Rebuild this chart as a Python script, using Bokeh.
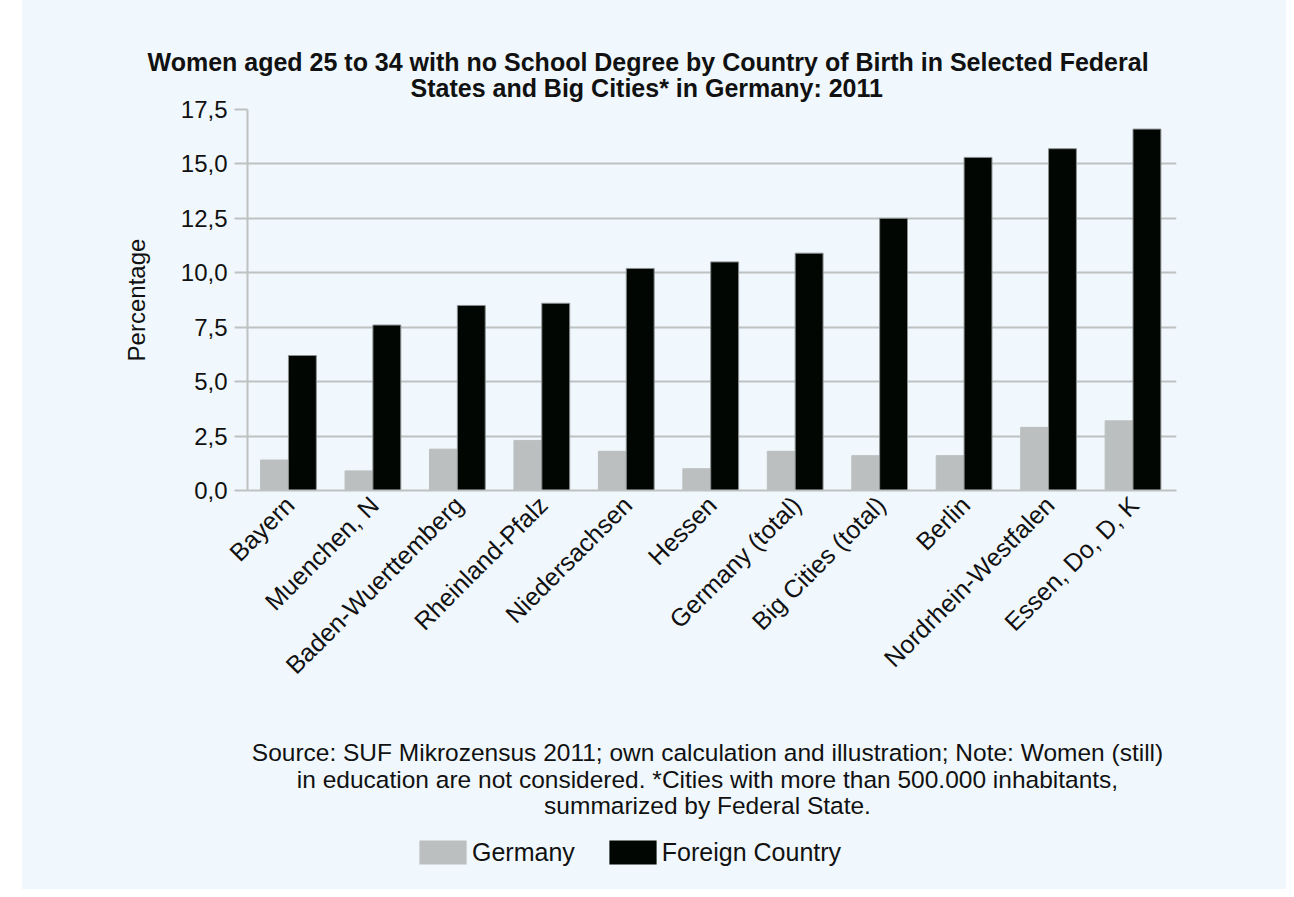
import math
from bokeh.plotting import figure
from bokeh.models import (FactorRange, Range1d, FixedTicker, CustomJSTickFormatter, Title, Label,
                          Legend, LegendItem, ColumnDataSource, Spacer)
from bokeh.layouts import row, column
from bokeh.transform import dodge
from bokeh.embed import file_html
from bokeh.resources import INLINE

# ---------------- data ----------------
categories = ["Bayern", "Muenchen, N", "Baden-Wuerttemberg", "Rheinland-Pfalz",
              "Niedersachsen", "Hessen", "Germany (total)", "Big Cities (total)",
              "Berlin", "Nordrhein-Westfalen", "Essen, Do, D, K"]
germany = [1.4, 0.9, 1.9, 2.3, 1.8, 1.0, 1.8, 1.6, 1.6, 2.9, 3.2]
foreign = [6.2, 7.6, 8.5, 8.6, 10.2, 10.5, 10.9, 12.5, 15.3, 15.7, 16.6]
y_ticks = [0, 2.5, 5, 7.5, 10, 12.5, 15, 17.5]
series_names = ["Germany", "Foreign Country"]
title_lines = ["Women aged 25 to 34 with no School Degree by Country of Birth in Selected Federal",
               "States and Big Cities* in Germany: 2011"]
source_lines = ["Source: SUF Mikrozensus 2011; own calculation and illustration; Note: Women (still)",
                "in education are not considered. *Cities with more than 500.000 inhabitants,",
                "summarized by Federal State."]
y_label = "Percentage"

# ---------------- style ----------------
BG = "#f0f8fd"
GRID = "#bec2c2"
GREY = "#bbbfbf"
BLACK = "#020602"
EDGE = "#8a8e8e"
FONT = "Liberation Sans"
TXT = "#111111"
W = 1264
BL, BR = 225, 110   # left / right borders shared by both panels

src = ColumnDataSource(dict(cat=categories, germany=germany, foreign=foreign))
xr = FactorRange(*categories, range_padding=0)

# ---------------- main chart ----------------
p = figure(width=W, height=710, x_range=xr, y_range=Range1d(0, 17.5),
           output_backend="svg", toolbar_location=None,
           min_border_left=BL, min_border_right=BR, min_border_top=99, min_border_bottom=230)
p.border_fill_color = BG
p.background_fill_color = BG
p.outline_line_color = None

p.vbar(x=dodge("cat", -0.18, range=xr), top="germany", width=0.33, source=src,
       fill_color=GREY, line_color=GREY, line_width=1)
p.vbar(x=dodge("cat", 0.15, range=xr), top="foreign", width=0.33, source=src,
       fill_color=BLACK, line_color=EDGE, line_width=1)

p.xgrid.grid_line_color = None
p.ygrid.grid_line_color = GRID
p.ygrid.grid_line_width = 2
p.ygrid.ticker = FixedTicker(ticks=y_ticks)

ya = p.yaxis[0]
ya.ticker = FixedTicker(ticks=y_ticks)
ya.formatter = CustomJSTickFormatter(code="return tick.toFixed(1).replace('.', ',');")
ya.axis_line_color = GRID
ya.axis_line_width = 2
ya.major_tick_line_color = GRID
ya.major_tick_line_width = 2
ya.major_tick_out = 13
ya.major_tick_in = 0
ya.minor_tick_line_color = None
ya.major_label_standoff = 7
ya.major_label_text_font = FONT
ya.major_label_text_font_size = "24px"
ya.major_label_text_color = TXT
ya.axis_label = y_label
ya.axis_label_text_font = FONT
ya.axis_label_text_font_size = "24px"
ya.axis_label_text_font_style = "normal"
ya.axis_label_text_color = TXT
ya.axis_label_standoff = 28

xa = p.xaxis[0]
xa.axis_line_color = GRID
xa.axis_line_width = 2
xa.major_tick_line_color = None
xa.major_tick_out = 0
xa.major_tick_in = 0
xa.minor_tick_line_color = None
xa.major_label_orientation = math.pi / 4
xa.major_label_standoff = 10
xa.major_label_text_font = FONT
xa.major_label_text_font_size = "25px"
xa.major_label_text_color = TXT

# two-line title: p.title is the outer line, the added Title sits nearest the plot
p.title.text = title_lines[0]
p.title.align = "left"
p.title.offset = -100
p.title.standoff = -24
p.title.text_font = FONT
p.title.text_font_size = "25px"
p.title.text_font_style = "bold"
p.title.text_color = TXT
p.add_layout(Title(text=title_lines[1], align="left", offset=163, standoff=16,
                   text_font=FONT, text_font_size="25px", text_font_style="bold",
                   text_color=TXT), "above")

# ---------------- footer: source note + legend ----------------
FH = 169
f = figure(width=W, height=FH, x_range=xr, y_range=Range1d(-1000, -1000 + FH),
           output_backend="svg", toolbar_location=None,
           min_border_left=BL, min_border_right=BR, min_border_top=0, min_border_bottom=0,
           x_axis_location=None, y_axis_location=None)
f.border_fill_color = BG
f.background_fill_color = None
f.outline_line_color = None
f.grid.grid_line_color = None

for txt, yy in zip(source_lines, [137, 110.5, 84]):
    f.add_layout(Label(x=460, y=yy, x_units="screen", y_units="screen", text=txt,
                       text_align="center", text_baseline="alphabetic",
                       text_font=FONT, text_font_size="24.5px", text_color=TXT))

# legend keys: same series as the chart, zero-width so nothing is drawn in this panel
g1 = f.vbar(x="cat", top="germany", width=0, source=src, fill_color=GREY, line_color=None)
g2 = f.vbar(x="cat", top="foreign", width=0, source=src, fill_color=BLACK, line_color=None)
legend = Legend(items=[LegendItem(label=series_names[0], renderers=[g1]),
                       LegendItem(label=series_names[1], renderers=[g2])],
                orientation="horizontal", location=(166, 22),
                glyph_width=59, glyph_height=30, label_height=30, label_standoff=0,
                spacing=28, padding=0, margin=0,
                label_text_font=FONT, label_text_font_size="25px", label_text_color=TXT,
                background_fill_alpha=0, border_line_alpha=0)
f.add_layout(legend)

layout = row(Spacer(width=22), column(Spacer(height=10), p, f, styles={"background-color": BG}))
open("out.html", "w").write(file_html(layout, INLINE))
